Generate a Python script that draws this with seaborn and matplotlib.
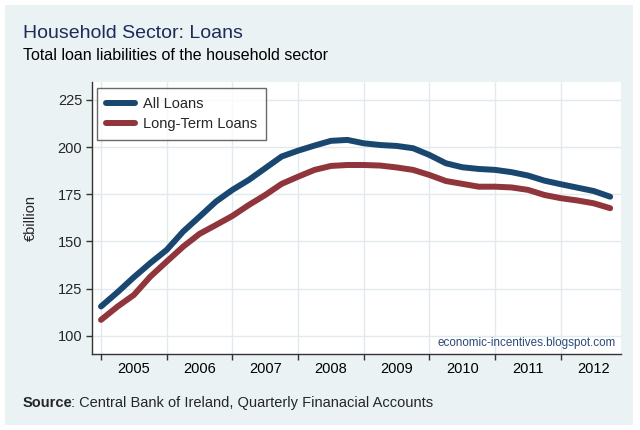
import matplotlib
matplotlib.use("Agg")
import matplotlib.pyplot as plt
import seaborn as sns
import pandas as pd
from matplotlib.patches import Rectangle
from matplotlib.lines import Line2D

# ---- data (quarterly, 2005Q1 - 2012Q4), €billion ----
years = [2005, 2006, 2007, 2008, 2009, 2010, 2011, 2012]
quarter_x = [y + q / 4 for y in years for q in range(4)]
all_loans = [115.5, 123.0, 131.0, 138.5, 145.5, 155.2, 163.1, 171.1,
             177.3, 182.6, 188.8, 195.0, 198.1, 200.8, 203.3, 203.8,
             202.0, 201.1, 200.6, 199.4, 195.8, 191.4, 189.3, 188.4,
             187.9, 186.7, 184.9, 182.2, 180.3, 178.5, 176.7, 173.7]
long_term = [108.4, 115.4, 121.6, 131.3, 139.3, 147.2, 154.0, 158.7,
             163.5, 169.3, 174.6, 180.5, 184.3, 187.9, 190.0, 190.5,
             190.5, 190.2, 189.2, 187.9, 185.2, 182.0, 180.5, 179.0,
             179.0, 178.6, 177.3, 174.6, 172.9, 171.7, 170.2, 167.6]
series_names = ["All Loans", "Long-Term Loans"]
y_ticks = [100, 125, 150, 175, 200, 225]

df = pd.DataFrame({
    "x": quarter_x * 2,
    "value": all_loans + long_term,
    "series": [series_names[0]] * len(all_loans) + [series_names[1]] * len(long_term),
})

sns.set_style("white")
plt.rcParams["font.family"] = ["Liberation Sans", "DejaVu Sans"]

fig = plt.figure(figsize=(6.4, 4.3), dpi=100)
fig.patch.set_facecolor("white")
fig.patches.append(Rectangle((5 / 640, 5 / 430), 628 / 640, 420 / 430,
                             transform=fig.transFigure, facecolor="#eaf2f3",
                             edgecolor="none", zorder=-10))

ax = fig.add_axes([92 / 640, 1 - 354 / 430, (621 - 92) / 640, (354 - 82) / 430])
ax.set_facecolor("white")

palette = {series_names[0]: "#1a476f", series_names[1]: "#90353b"}
sns.lineplot(data=df, x="x", y="value", hue="series", palette=palette,
             linewidth=4.3, ax=ax, legend=False,
             solid_capstyle="round", solid_joinstyle="round")

ax.set_xlim(2004.863, 2012.915)
ax.set_ylim(90.3, 234.5)

ax.set_xticks(years)
ax.set_xticklabels([])
ax.set_xticks([y + 0.5 for y in years], minor=True)
ax.set_xticklabels([str(y) for y in years], minor=True)
ax.tick_params(axis="x", which="major", direction="out", length=4, width=1,
               color="#333333", bottom=True)
ax.tick_params(axis="x", which="minor", length=0, labelsize=10.5, pad=6,
               labelcolor="black")
ax.set_yticks(y_ticks)
ax.set_yticklabels([str(v) for v in y_ticks])
ax.tick_params(axis="y", direction="out", length=4, width=1, color="#333333",
               left=True, labelsize=10.5, pad=3)

ax.grid(True, which="major", color="#e1eaec", linewidth=1)
ax.set_axisbelow(True)
for side in ["top", "right"]:
    ax.spines[side].set_visible(False)
for side in ["left", "bottom"]:
    ax.spines[side].set_color("#333333")
    ax.spines[side].set_linewidth(1)

ax.set_xlabel("")
ax.set_ylabel("€billion", fontsize=10.5, labelpad=14)

handles = [Line2D([0], [0], color=palette[n], linewidth=4.3,
                  solid_capstyle="round") for n in series_names]
leg = ax.legend(handles, series_names, loc="upper left",
                bbox_to_anchor=(0.0095, 0.978), frameon=True, fancybox=False,
                edgecolor="#444444", fontsize=10.5, handlelength=2.0,
                borderpad=0.6, labelspacing=0.45, handletextpad=0.55,
                borderaxespad=0)
leg.get_frame().set_linewidth(1)

ax.text(0.991, 0.018, "economic-incentives.blogspot.com", transform=ax.transAxes,
        ha="right", va="bottom", fontsize=8.4, color="#2b4a78")

fig.text(23 / 640, 1 - 38 / 430, "Household Sector: Loans", fontsize=14.0,
         color="#1c2b5a", ha="left", va="baseline")
fig.text(23 / 640, 1 - 60 / 430, "Total loan liabilities of the household sector",
         fontsize=11.5, color="black", ha="left", va="baseline")

t1 = fig.text(23 / 640, 1 - 407 / 430, "Source", fontsize=10.5,
              fontweight="bold", ha="left", va="baseline")
ax.annotate(": Central Bank of Ireland, Quarterly Finanacial Accounts",
            xy=(1, 0), xycoords=t1, xytext=(-1.5, 0), textcoords="offset points",
            fontsize=10.5, ha="left", va="bottom", annotation_clip=False)

fig.savefig("out.png", dpi=100, facecolor=fig.get_facecolor())
